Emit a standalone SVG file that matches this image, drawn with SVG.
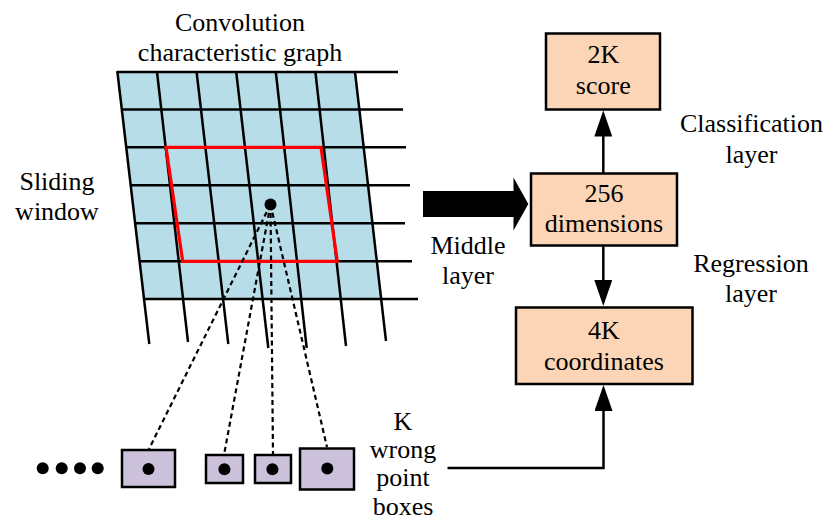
<svg xmlns="http://www.w3.org/2000/svg" width="827" height="528" viewBox="0 0 827 528">
  <style>
    .t { font-family: "Liberation Serif", "Times New Roman", serif; font-size: 26px; fill: #000; text-anchor: middle; }
    .grid line { stroke: #000; stroke-width: 2.5; stroke-linecap: butt; }
    .box { fill: #FBD5B5; stroke: #000; stroke-width: 2.5; }
    .anchor { fill: #CCC1DA; stroke: #000; stroke-width: 2.5; }
    .dot { fill: #000; }
    .dash { stroke: #000; stroke-width: 2.2; stroke-dasharray: 5 3.5; fill: none; }
    .link { stroke: #000; stroke-width: 2.5; fill: none; }
  </style>
  <defs>
    <marker id="head" viewBox="0 0 26 18" refX="6" refY="9" markerWidth="26" markerHeight="18" markerUnits="userSpaceOnUse" orient="auto">
      <path d="M0,0 L26,9 L0,18 z" fill="#000"/>
    </marker>
  </defs>

  <!-- convolution feature map -->
  <g id="feature-map">
    <polygon points="117.3,72 354.9,72 381.3,299 144.1,299" fill="#B7DDE8"/>
    <g class="grid">
      <line x1="117.3" y1="72" x2="398" y2="72"/>
      <line x1="121.7" y1="109.5" x2="403" y2="109.5"/>
      <line x1="126.2" y1="147.3" x2="406" y2="147.3"/>
      <line x1="130.7" y1="185.2" x2="410" y2="185.2"/>
      <line x1="135.1" y1="223.2" x2="405" y2="223.2"/>
      <line x1="139.6" y1="261.2" x2="412" y2="261.2"/>
      <line x1="144.1" y1="299" x2="418" y2="299"/>
      <line x1="117.3" y1="71" x2="149.3" y2="344"/>
      <line x1="156.9" y1="71" x2="188" y2="342"/>
      <line x1="196.5" y1="71" x2="228.3" y2="344"/>
      <line x1="236.1" y1="71" x2="268.3" y2="348"/>
      <line x1="275.7" y1="71" x2="306.7" y2="348"/>
      <line x1="315.3" y1="71" x2="346" y2="346"/>
      <line x1="354.9" y1="71" x2="386" y2="341"/>
    </g>
    <text class="t" x="240" y="30.5">Convolution</text>
    <text class="t" x="240" y="61">characteristic graph</text>
  </g>

  <!-- sliding window -->
  <g id="sliding-window">
    <polygon points="166,147.3 321,147.3 337.3,261.3 182.7,261.3" fill="none" stroke="#FF0000" stroke-width="3.2" stroke-linejoin="miter"/>
    <circle class="dot" cx="270.5" cy="204.5" r="6"/>
    <text class="t" x="57" y="189.5">Sliding</text>
    <text class="t" x="57" y="219.5">window</text>
  </g>

  <!-- anchor boxes -->
  <g id="anchors">
    <circle class="dot" cx="42.7" cy="468.3" r="6"/>
    <circle class="dot" cx="61.7" cy="468.3" r="6"/>
    <circle class="dot" cx="80" cy="468.3" r="6"/>
    <circle class="dot" cx="97.7" cy="468.3" r="6"/>
    <g id="anchor-1">
      <rect class="anchor" x="122" y="450" width="53" height="37"/>
      <circle class="dot" cx="148.5" cy="469" r="6"/>
    </g>
    <g id="anchor-2">
      <rect class="anchor" x="206" y="455" width="37" height="28"/>
      <circle class="dot" cx="224.4" cy="469.2" r="6"/>
    </g>
    <g id="anchor-3">
      <rect class="anchor" x="255" y="455" width="36" height="28"/>
      <circle class="dot" cx="272.4" cy="469.2" r="6"/>
    </g>
    <g id="anchor-4">
      <rect class="anchor" x="300" y="448.5" width="54" height="41"/>
      <circle class="dot" cx="327.3" cy="468.5" r="6"/>
    </g>
    <text class="t" x="403" y="429.5">K</text>
    <text class="t" x="403" y="457.5">wrong</text>
    <text class="t" x="403" y="486">point</text>
    <text class="t" x="403" y="515">boxes</text>
  </g>

  <!-- middle layer arrow -->
  <g id="middle-layer">
    <polygon points="423,191 513.5,191 513.5,177.5 528.3,204 513.5,230.5 513.5,217 423,217" fill="#000"/>
    <text class="t" x="468" y="253.5">Middle</text>
    <text class="t" x="468" y="283.5">layer</text>
  </g>

  <g id="score">
    <rect class="box" x="546" y="33.5" width="114" height="76"/>
    <text class="t" x="603.3" y="62.5">2K</text>
    <text class="t" x="603.3" y="94">score</text>
  </g>

  <g id="dimensions">
    <rect class="box" x="531" y="173.5" width="146" height="72"/>
    <text class="t" x="604" y="201.5">256</text>
    <text class="t" x="604" y="232">dimensions</text>
  </g>

  <g id="coordinates">
    <rect class="box" x="516" y="307.5" width="176.5" height="76.5"/>
    <text class="t" x="604" y="338.5">4K</text>
    <text class="t" x="604" y="370">coordinates</text>
  </g>

  <g id="layer-labels">
    <text class="t" x="751.5" y="131.5">Classification</text>
    <text class="t" x="751.5" y="162.5">layer</text>
    <text class="t" x="751" y="271.5">Regression</text>
    <text class="t" x="751" y="301.5">layer</text>
  </g>

  <!-- connectors -->
  <g id="connectors">
    <line class="dash" x1="270.5" y1="204.5" x2="149" y2="449"/>
    <line class="dash" x1="270.5" y1="204.5" x2="224" y2="455"/>
    <line class="dash" x1="270.5" y1="204.5" x2="273" y2="455"/>
    <line class="dash" x1="270.5" y1="204.5" x2="327" y2="447"/>
    <line class="link" x1="603.3" y1="173.5" x2="603.3" y2="130.5" marker-end="url(#head)"/>
    <line class="link" x1="603.3" y1="245.5" x2="603.3" y2="286" marker-end="url(#head)"/>
    <polyline class="link" points="447.5,468 603.5,468 603.5,405" marker-end="url(#head)"/>
  </g>
</svg>
